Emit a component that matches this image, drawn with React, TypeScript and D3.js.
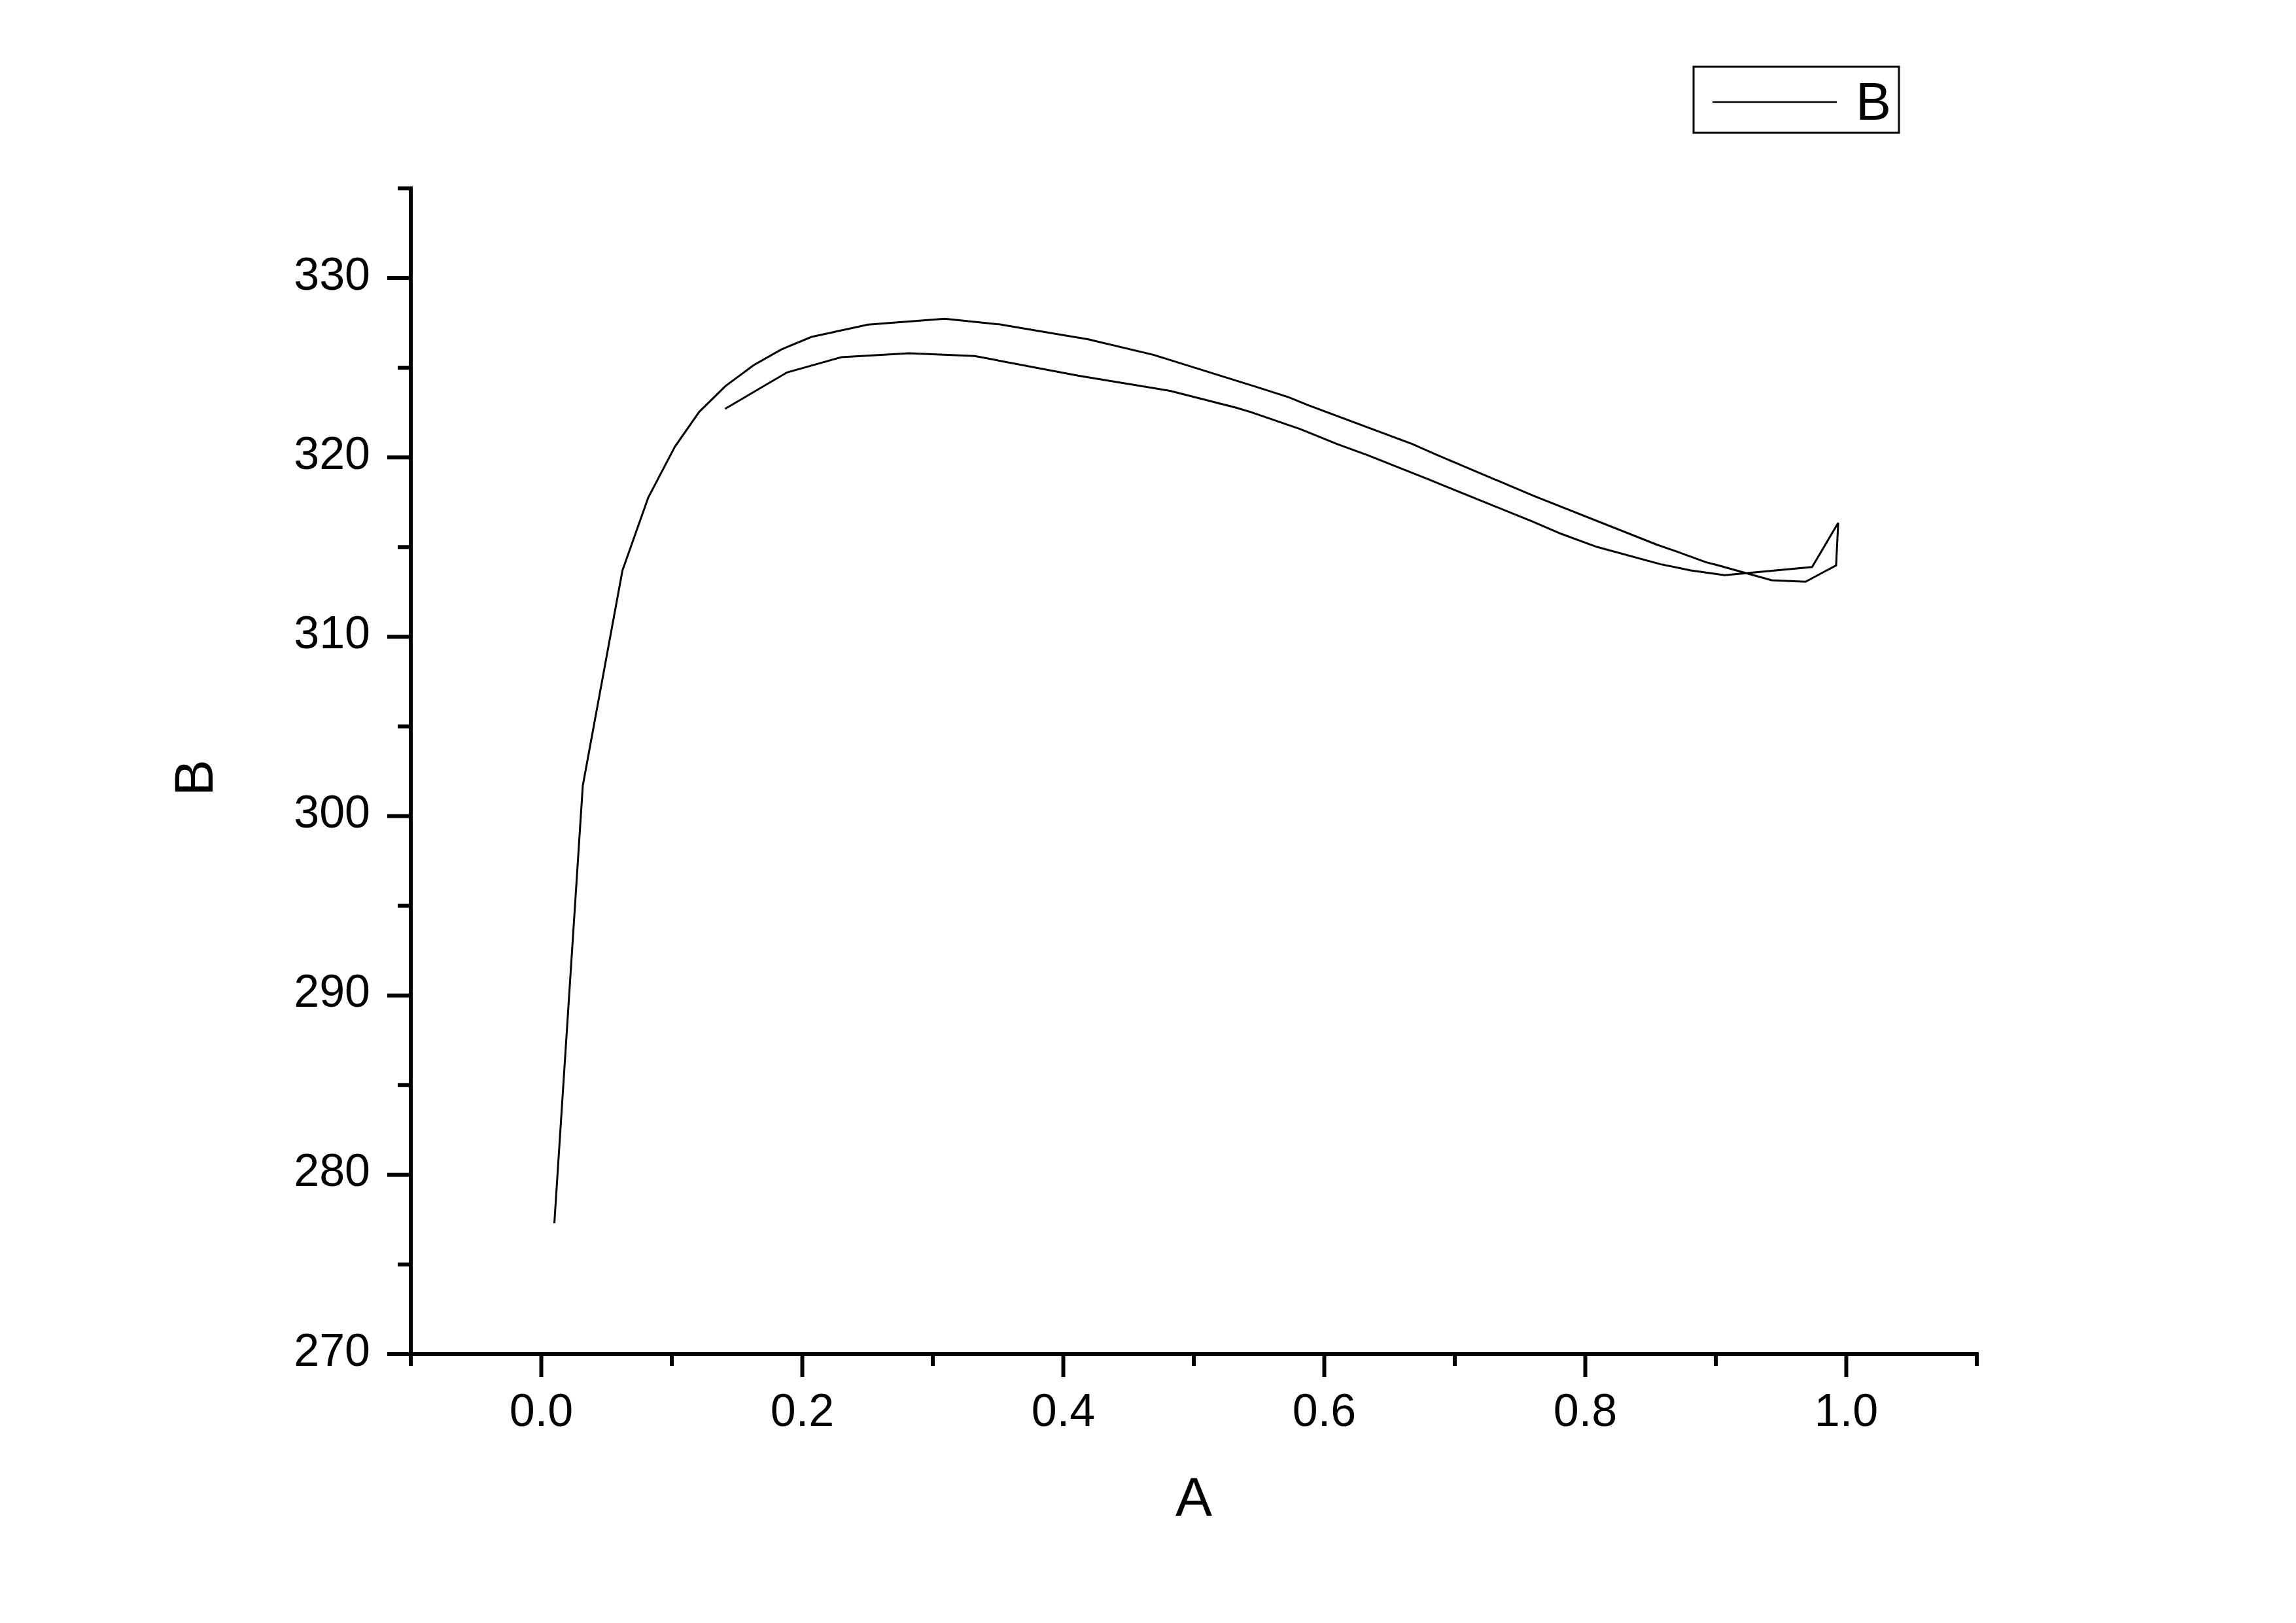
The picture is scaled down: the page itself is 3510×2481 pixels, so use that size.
import React from "react";
import * as d3 from "d3";

// Data (x = A, y = B), in drawing order
const seriesA = [
  0.0100, 0.0318, 0.0622, 0.0819, 0.1023, 0.1210, 0.1410, 0.1627, 0.1840, 0.2070,
  0.2502, 0.3092, 0.3509, 0.4186, 0.4690, 0.5498, 0.5729, 0.5873, 0.6679, 0.6851,
  0.7600, 0.8550, 0.8694, 0.8924, 0.9010, 0.9428, 0.9688, 0.9922, 0.9938,
  0.9738, 0.9068, 0.8809, 0.8579, 0.8089, 0.7815, 0.7600, 0.7312, 0.6938, 0.6794,
  0.6333, 0.6103, 0.5815, 0.5440, 0.5325, 0.4819, 0.4114, 0.3322, 0.2819, 0.2300,
  0.1883, 0.1408,
];
const seriesB = [
  277.3, 301.7, 313.7, 317.75, 320.59, 322.54, 323.97, 325.14, 326.02, 326.72,
  327.40, 327.73, 327.42, 326.59, 325.72, 323.89, 323.35, 322.92, 320.73, 320.18,
  317.87, 315.13, 314.77, 314.16, 314.0, 313.15, 313.07, 313.98, 316.35,
  313.89, 313.43, 313.70, 314.04, 315.01, 315.74, 316.41, 317.26, 318.36, 318.79,
  320.12, 320.73, 321.58, 322.52, 322.77, 323.71, 324.56, 325.65, 325.81, 325.59,
  324.74, 322.71,
];

const xMajorTicks = [0.0, 0.2, 0.4, 0.6, 0.8, 1.0];
const xMinorTicks = [-0.1, 0.1, 0.3, 0.5, 0.7, 0.9, 1.1];
const yMajorTicks = [270, 280, 290, 300, 310, 320, 330];
const yMinorTicks = [275, 285, 295, 305, 315, 325, 335];

const xTitle = "A";
const yTitle = "B";
const legendLabel = "B";

export default function App() {
  const W = 3510;
  const H = 2481;
  const left = 628;
  const right = 3022;
  const top = 288;
  const bottom = 2070;

  const x = d3.scaleLinear().domain([-0.1, 1.1]).range([left, right]);
  const y = d3.scaleLinear().domain([270, 335]).range([bottom, top]);

  const pts: [number, number][] = seriesA.map((a, i) => [a, seriesB[i]]);
  const line = d3
    .line<[number, number]>()
    .x((d) => x(d[0]))
    .y((d) => y(d[1]));

  const font = "'Liberation Sans', Arial, sans-serif";
  const axisW = 6;

  return (
    <svg
      width={W}
      height={H}
      viewBox={`0 0 ${W} ${H}`}
      style={{ position: "absolute", left: 0, top: 0, background: "#fff" }}
    >
      <rect x={0} y={0} width={W} height={H} fill="#fff" />

      {/* curve */}
      <path
        d={line(pts) || ""}
        fill="none"
        stroke="#000"
        strokeWidth={3}
        strokeLinejoin="miter"
      />

      {/* axes */}
      <line x1={left} y1={top} x2={left} y2={bottom} stroke="#000" strokeWidth={axisW} strokeLinecap="square" />
      <line x1={left} y1={bottom} x2={right} y2={bottom} stroke="#000" strokeWidth={axisW} strokeLinecap="square" />

      {/* y ticks */}
      {yMajorTicks.map((t) => (
        <g key={"ym" + t}>
          <line x1={left - 36} x2={left} y1={y(t)} y2={y(t)} stroke="#000" strokeWidth={axisW} />
          <text
            x={566}
            y={y(t) + 17.5}
            textAnchor="end"
            fontFamily={font}
            fontSize={70}
            fill="#000"
          >
            {t}
          </text>
        </g>
      ))}
      {yMinorTicks.map((t) => (
        <line key={"yn" + t} x1={left - 20} x2={left} y1={y(t)} y2={y(t)} stroke="#000" strokeWidth={axisW} />
      ))}

      {/* x ticks */}
      {xMajorTicks.map((t) => (
        <g key={"xm" + t}>
          <line x1={x(t)} x2={x(t)} y1={bottom} y2={bottom + 35} stroke="#000" strokeWidth={axisW} />
          <text
            x={x(t)}
            y={bottom + 110}
            textAnchor="middle"
            fontFamily={font}
            fontSize={70}
            fill="#000"
          >
            {d3.format(".1f")(t)}
          </text>
        </g>
      ))}
      {xMinorTicks.map((t) => (
        <line key={"xn" + t} x1={x(t)} x2={x(t)} y1={bottom} y2={bottom + 18} stroke="#000" strokeWidth={axisW} />
      ))}

      {/* axis titles */}
      <text
        x={(left + right) / 2}
        y={2317}
        textAnchor="middle"
        fontFamily={font}
        fontSize={84}
        fill="#000"
      >
        {xTitle}
      </text>
      <text
        transform={`translate(325, ${1189}) rotate(-90)`}
        textAnchor="middle"
        fontFamily={font}
        fontSize={84}
        fill="#000"
      >
        {yTitle}
      </text>

      {/* legend */}
      <rect x={2589} y={102} width={314} height={101} fill="#fff" stroke="#000" strokeWidth={3} />
      <line x1={2618} x2={2808} y1={156} y2={156} stroke="#000" strokeWidth={2.5} />
      <text x={2837} y={183} fontFamily={font} fontSize={81} fill="#000">
        {legendLabel}
      </text>
    </svg>
  );
}
